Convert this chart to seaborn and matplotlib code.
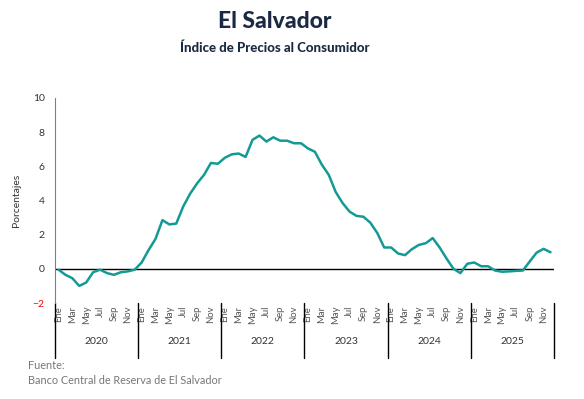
import matplotlib
matplotlib.use("Agg")
import matplotlib.pyplot as plt
import matplotlib.transforms as mtransforms
import seaborn as sns
import pandas as pd

# --- Datos ---
anios = [2020, 2021, 2022, 2023, 2024, 2025]
meses = ["Ene", "Feb", "Mar", "Abr", "May", "Jun", "Jul", "Ago", "Sep", "Oct", "Nov", "Dic"]
valores_2020 = [-0.05, -0.35, -0.55, -1.0, -0.8, -0.2, -0.05, -0.25, -0.35, -0.2, -0.15, -0.05]
valores_2021 = [0.37, 1.1, 1.75, 2.85, 2.6, 2.65, 3.65, 4.4, 5.0, 5.5, 6.2, 6.15]
valores_2022 = [6.5, 6.7, 6.75, 6.55, 7.55, 7.8, 7.45, 7.7, 7.5, 7.5, 7.35, 7.35]
valores_2023 = [7.05, 6.85, 6.1, 5.5, 4.5, 3.85, 3.35, 3.1, 3.05, 2.7, 2.1, 1.25]
valores_2024 = [1.25, 0.9, 0.8, 1.15, 1.4, 1.5, 1.8, 1.25, 0.6, 0.0, -0.25, 0.3]
valores_2025 = [0.37, 0.15, 0.15, -0.1, -0.17, -0.15, -0.12, -0.1, 0.43, 0.95, 1.17, 0.97]

valores = valores_2020 + valores_2021 + valores_2022 + valores_2023 + valores_2024 + valores_2025
df = pd.DataFrame({"mes": range(len(valores)), "ipc": valores})

# --- Grafico ---
sns.set_style("white")
plt.rcParams["font.family"] = ["Lato", "DejaVu Sans"]

fig = plt.figure(figsize=(5.84, 3.99), dpi=100)
ax = fig.add_axes([0.0942, 0.2406, 0.8544, 0.5138])

sns.lineplot(data=df, x="mes", y="ipc", color="#149a95", linewidth=1.8, ax=ax)
ax.axhline(0, color="black", linewidth=1.0, zorder=1)

ax.set_xlim(-0.5, len(valores) - 0.5)
ax.set_ylim(-2, 10)
ax.set_yticks(range(-2, 11, 2))
ax.tick_params(axis="y", colors="#808080", length=4, width=0.8, labelsize=7.5, labelcolor="#333333")
ax.get_yticklabels()[0].set_color("red")

ax.set_xticks(range(0, len(valores), 2))
ax.set_xticklabels([meses[i % 12] for i in range(0, len(valores), 2)],
                   rotation=90, fontsize=6.8, color="#555555")
ax.tick_params(axis="x", length=0, pad=2)

ax.set_xlabel("")
ax.set_ylabel("Porcentajes", fontsize=7.5, color="#333333", labelpad=8)

for s in ["top", "right", "bottom"]:
    ax.spines[s].set_visible(False)
ax.spines["left"].set_color("#808080")
ax.spines["left"].set_linewidth(0.8)

# separadores de anio y etiquetas
trans = mtransforms.blended_transform_factory(ax.transData, ax.transAxes)
for k, anio in enumerate(anios):
    ax.plot([12 * k - 0.5, 12 * k - 0.5], [0, -0.268], color="black", linewidth=1.0,
            transform=trans, clip_on=False)
    ax.text(12 * k + 5.5, -0.19, str(anio), transform=trans, ha="center", va="center",
            fontsize=7.5, color="#333333")
ax.plot([12 * len(anios) - 0.5] * 2, [0, -0.268], color="black", linewidth=1.0,
        transform=trans, clip_on=False)

fig.text(0.47, 0.945, "El Salvador", ha="center", va="center", fontsize=16.5,
         fontweight="black", color="#1b2a44")
fig.text(0.47, 0.88, "Índice de Precios al Consumidor", ha="center", va="center",
         fontsize=9.5, fontweight="black", color="#1b2a44")
fig.text(0.048, 0.083, "Fuente:", ha="left", va="center", fontsize=7.8, color="#777777")
fig.text(0.048, 0.047, "Banco Central de Reserva de El Salvador", ha="left", va="center",
         fontsize=7.8, color="#777777")

fig.savefig("out.png", dpi=100)
